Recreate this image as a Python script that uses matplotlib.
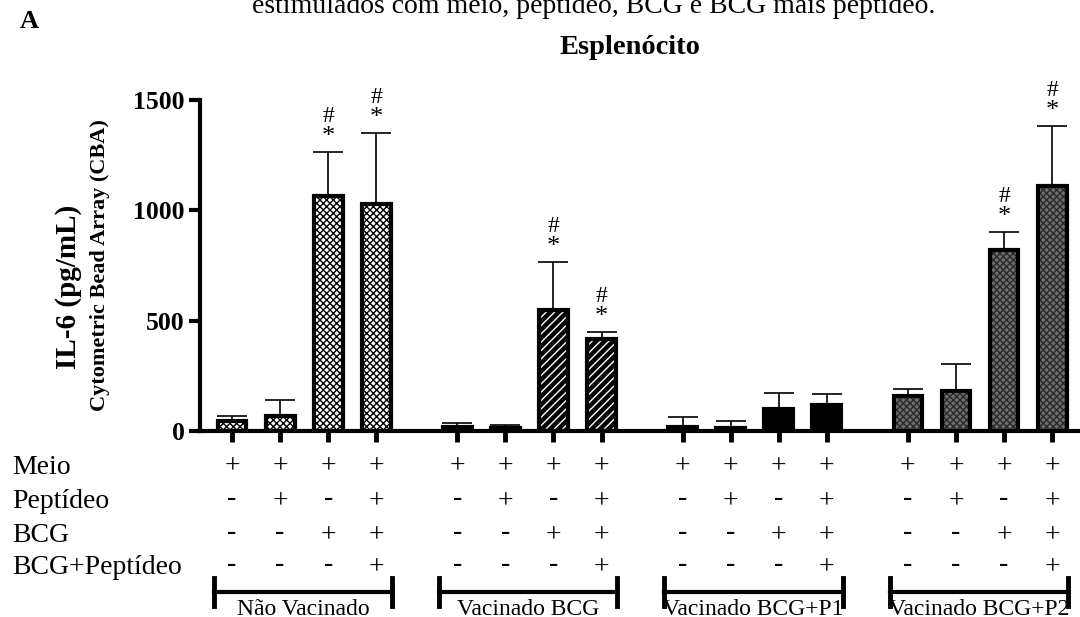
import matplotlib.pyplot as plt
import matplotlib.transforms as mtransforms
import numpy as np

plt.rcParams['font.family'] = ['Liberation Serif', 'DejaVu Serif']
plt.rcParams['hatch.linewidth'] = 1.0

# data
grupos = ['Não Vacinado', 'Vacinado BCG', 'Vacinado BCG+P1', 'Vacinado BCG+P2']
il6_media = [
    [45, 70, 1065, 1030],
    [20, 15, 550, 418],
    [20, 15, 100, 118],
    [160, 183, 820, 1110],
]
il6_erro = [
    [23, 70, 200, 320],
    [16, 12, 216, 31],
    [43, 30, 72, 50],
    [30, 121, 82, 272],
]
signif = [
    [False, False, True, True],
    [False, False, True, True],
    [False, False, False, False],
    [False, False, True, True],
]
linhas = ['Meio', 'Peptídeo', 'BCG', 'BCG+Peptídeo']
sinais = [
    ['+', '+', '+', '+'],
    ['-', '+', '-', '+'],
    ['-', '-', '+', '+'],
    ['-', '-', '-', '+'],
]

# (face, hatch colour, hatch) per group
estilos = [
    ('#ffffff', '#000000', 'xxxxx'),
    ('#000000', '#ffffff', '////'),
    ('#000000', '#000000', None),
    ('#6e6e6e', '#2a2a2a', 'xxxxx'),
]

W, H = 1080, 617
fig = plt.figure(figsize=(W / 100, H / 100), dpi=100)
ax = fig.add_axes([200 / W, 1 - 431 / H, 880 / W, 331 / H])

passo = 4.6875
largura = 0.6
pos_todas = []
for g in range(4):
    x = g * passo + np.arange(4)
    pos_todas.extend(x)
    face, cor_hatch, hatch = estilos[g]
    ax.bar(x, il6_media[g], width=largura, color=face, edgecolor=cor_hatch,
           hatch=hatch, linewidth=0, zorder=2)
    ax.bar(x, il6_media[g], width=largura, fill=False, edgecolor='black',
           linewidth=3, zorder=3)
    ax.errorbar(x, il6_media[g], yerr=[np.zeros(4), il6_erro[g]], fmt='none',
                ecolor='black', elinewidth=1.2, capsize=10.5, capthick=1.2, zorder=1)
    for i in range(4):
        if signif[g][i]:
            topo = il6_media[g][i] + il6_erro[g][i]
            ax.text(x[i], topo + 68, '*', ha='center', va='center', fontsize=19)
            ax.text(x[i], topo + 160, '#', ha='center', va='center', fontsize=17)

ax.set_xlim(-0.667, 3 * passo + 3 + 0.58)
ax.set_ylim(0, 1500)
ax.set_yticks([0, 500, 1000, 1500])
ax.set_xticks(pos_todas)
ax.set_xticklabels([])
ax.tick_params(axis='x', length=8, width=3.5, direction='out')
ax.tick_params(axis='y', length=8, width=3, labelsize=18.5, pad=3)
for lab in ax.get_yticklabels():
    lab.set_fontweight('bold')
for s in ['top', 'right']:
    ax.spines[s].set_visible(False)
ax.spines['left'].set_linewidth(3)
ax.spines['bottom'].set_linewidth(3)

# y label in two lines
fig.text(69 / W, 1 - 287 / H, 'IL-6 (pg/mL)', rotation=90, ha='center', va='center',
         fontsize=21, fontweight='bold')
fig.text(100 / W, 1 - 265 / H, 'Cytometric Bead Array (CBA)', rotation=90, ha='center',
         va='center', fontsize=16, fontweight='bold')

# titles
fig.text(630 / W, 1 - 47 / H, 'Esplenócito', ha='center', va='center', fontsize=20.5,
         fontweight='bold')
fig.text(20 / W, 1 - 21 / H, 'A', ha='left', va='center', fontsize=19, fontweight='bold')
fig.text(594 / W, 1 - 13 / H, 'estimulados com meio, peptídeo, BCG e BCG mais peptídeo.',
         ha='center', va='baseline', fontsize=20)

# treatment table under the axis
trans = mtransforms.blended_transform_factory(ax.transData, fig.transFigure)
linhas_y = [467, 502, 536, 568]
for r, nome in enumerate(linhas):
    fig.text(12 / W, 1 - linhas_y[r] / H, nome, ha='left', va='center', fontsize=20)
    for g in range(4):
        for i in range(4):
            s = sinais[r][i]
            ys = linhas_y[r] - (3 if s == '-' else 0)
            ax.text(g * passo + i, 1 - ys / H, s, transform=trans,
                    ha='center', va='center', fontsize=20, clip_on=False)

# group brackets
for g, nome in enumerate(grupos):
    x0 = g * passo - 0.38
    x1 = g * passo + 3 + 0.33
    yb = 1 - 592 / H
    ax.plot([x0, x1], [yb, yb], color='black', lw=3, transform=trans, clip_on=False)
    for xe in (x0, x1):
        ax.plot([xe, xe], [1 - 578 / H, 1 - 606 / H], color='black', lw=3.5,
                transform=trans, clip_on=False)
    ax.text((x0 + x1) / 2, 1 - 599 / H, nome, transform=trans, ha='center', va='top',
            fontsize=17, clip_on=False)

fig.savefig('out.png', dpi=100)
